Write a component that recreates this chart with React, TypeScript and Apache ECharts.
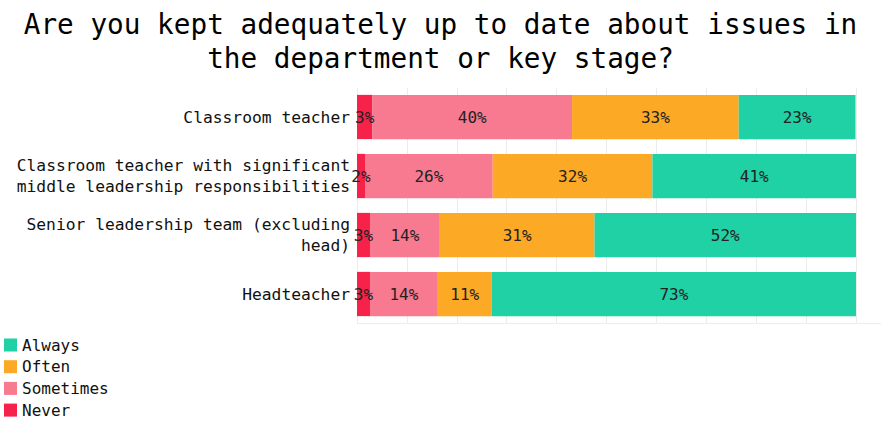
import React, { useEffect, useRef } from "react";
import * as echarts from "echarts";

const titleText = "Are you kept adequately up to date about issues in\nthe department or key stage?";
const categories = [
  "Classroom teacher",
  "Classroom teacher with significant\nmiddle leadership responsibilities",
  "Senior leadership team (excluding\nhead)",
  "Headteacher",
];
const seriesNames = ["Never", "Sometimes", "Often", "Always"];
const legendOrder = ["Always", "Often", "Sometimes", "Never"];
const never = [3.1, 1.6, 2.6, 2.6];
const sometimes = [40.0, 25.6, 14.0, 13.6];
const often = [33.4, 32.0, 31.0, 10.8];
const always = [23.4, 40.8, 52.4, 73.0];
const xTicks = [0, 10, 20, 30, 40, 50, 60, 70, 80, 90, 100];

const colors = ["#f6224a", "#f87a91", "#fca925", "#1fd1a5"];
const FONT = "DejaVu Sans Mono";

export default function App() {
  const ref = useRef<HTMLDivElement>(null);
  useEffect(() => {
    document.body.style.margin = "0";
    if (!ref.current) return;
    const chart = echarts.init(ref.current, undefined, { renderer: "svg" });
    const values = [never, sometimes, often, always];
    chart.setOption({
      animation: false,
      title: {
        text: titleText,
        left: "center",
        top: 2,
        textStyle: {
          fontFamily: FONT,
          fontSize: 27.7,
          fontWeight: "normal",
          color: "#000",
          lineHeight: 34,
        },
      },
      legend: {
        data: legendOrder,
        orient: "vertical",
        left: 4,
        top: 337,
        height: 84,
        padding: 0,
        icon: "rect",
        itemWidth: 13,
        itemHeight: 13,
        itemGap: 5.7,
        textStyle: { fontFamily: FONT, fontSize: 16, color: "#111", lineHeight: 16 },
      },
      grid: { left: 357, right: 25, top: 87.5, bottom: 97.5 },
      xAxis: {
        type: "value",
        min: xTicks[0],
        max: xTicks[xTicks.length - 1],
        interval: xTicks[1] - xTicks[0],
        axisLabel: { show: false },
        axisLine: { show: false },
        axisTick: { show: false },
        splitLine: { show: true, lineStyle: { color: "#ececec", width: 1 } },
      },
      yAxis: {
        type: "category",
        data: categories,
        inverse: true,
        axisLine: { show: false },
        axisTick: { show: false },
        axisLabel: {
          fontFamily: FONT,
          fontSize: 16.3,
          color: "#111",
          lineHeight: 21,
          align: "right",
          margin: 7,
        },
      },
      graphic: [
        {
          type: "line",
          shape: { x1: 357, y1: 323.5, x2: 881, y2: 323.5 },
          style: { stroke: "#ececec", lineWidth: 1 },
        },
      ],
      series: seriesNames.map((name, i) => ({
        name,
        type: "bar",
        stack: "total",
        data: values[i],
        barCategoryGap: "25%",
        itemStyle: { color: colors[i] },
        label: {
          show: true,
          position: "inside",
          formatter: (p: any) => Math.round(p.value) + "%",
          fontFamily: FONT,
          fontSize: 16,
          color: "#222",
          textBorderWidth: 0,
        },
        emphasis: { disabled: true },
      })),
    });
    return () => chart.dispose();
  }, []);
  return <div ref={ref} style={{ width: 881, height: 421 }} />;
}
